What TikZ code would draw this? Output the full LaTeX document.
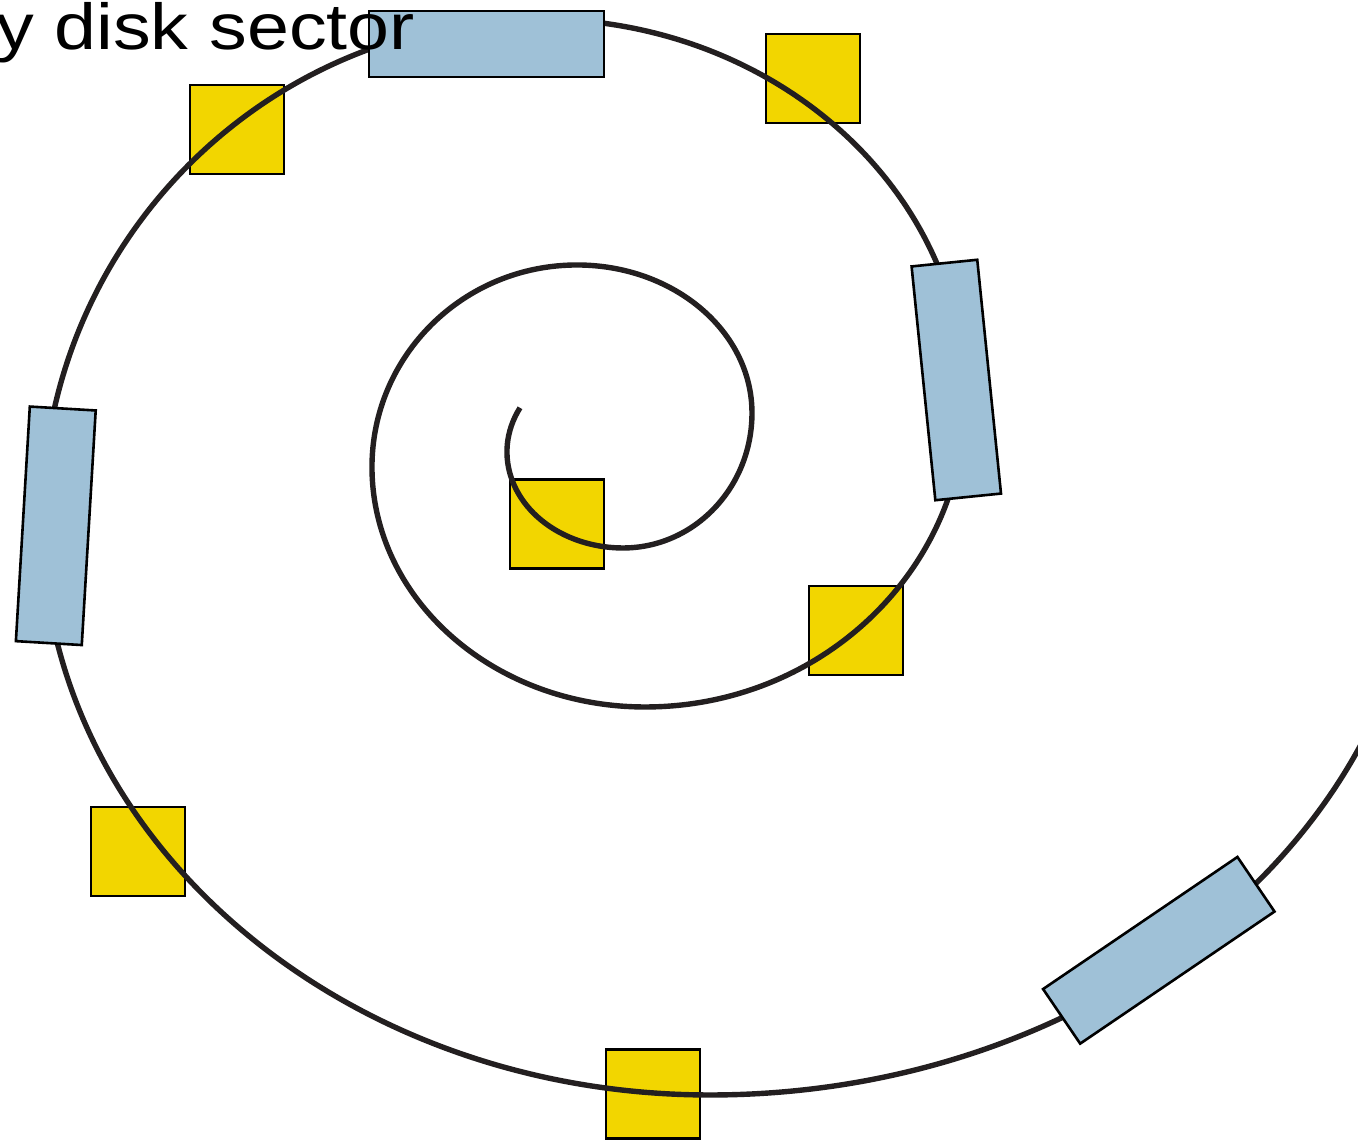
\documentclass[tikz,border=0pt]{standalone}
\usepackage{fontspec}
\setmainfont{Liberation Sans}
\definecolor{trackink}{HTML}{231F20}
\definecolor{sectoryellow}{HTML}{F2D600}
\definecolor{sectorblue}{HTML}{9FC1D7}
\begin{document}
\begin{tikzpicture}[x=1pt,y=-1pt,
  track/.style={draw=trackink,line width=5.4pt,line cap=butt},
  datasq/.style={draw=black,fill=sectoryellow,line width=2.6pt,
    minimum width=94pt,minimum height=89pt,inner sep=0pt,outer sep=0pt},
  gapbox/.style={draw=black,fill=sectorblue,line width=2.6pt,
    minimum width=235pt,minimum height=66pt,inner sep=0pt,outer sep=0pt},
  caption/.style={inner sep=0pt,outer sep=0pt,anchor=base west,
    font=\fontsize{65}{78}\selectfont}]
\useasboundingbox (0,0) rectangle (1358,1142);
\clip (0,0) rectangle (1358,1142);
\fill[white] (0,0) rectangle (1358,1142);

% sectors holding data (lie under the track)
\node[datasq] (s1) at (237,129.5) {};
\node[datasq] (s2) at (813,78.5) {};
\node[datasq] (s3) at (557,524) {};
\node[datasq] (s4) at (856,630.5) {};
\node[datasq] (s5) at (138,851.5) {};
\node[datasq] (s6) at (653,1094) {};

% the recording track: quarter-ellipse pieces joined at their extreme points
\coordinate (trackstart) at (520,407.8);
\draw[track] (trackstart)
  arc[start angle=207.4, end angle=90,  x radius=116, y radius=96]
  arc[start angle=90,    end angle=0,   x radius=129, y radius=135]
  arc[start angle=0,     end angle=-90, x radius=175, y radius=148]
  arc[start angle=-90,   end angle=-180,x radius=205, y radius=202]
  arc[start angle=180,   end angle=90,  x radius=273, y radius=240]
  arc[start angle=90,    end angle=0,   x radius=320, y radius=307]
  arc[start angle=0,     end angle=-90, x radius=425, y radius=381]
  arc[start angle=-90,   end angle=-180,x radius=498, y radius=501]
  arc[start angle=180,   end angle=90,  x radius=668, y radius=575]
  arc[start angle=90,    end angle=12,  x radius=714, y radius=595];

% gaps between sectors (cover the track)
\node[gapbox] (g1) at (486.5,44) {};
\node[gapbox,rotate=90+5.8] (g2) at (956.3,380) {};
\node[gapbox,rotate=90-3.4] (g3) at (55.8,525.8) {};
\node[gapbox,rotate=34.2] (g4) at (1158.8,950.3) {};

\node[caption] (title) at (-4,50) {\scalebox{1.16}[1]{y disk sector}};
\end{tikzpicture}
\end{document}
